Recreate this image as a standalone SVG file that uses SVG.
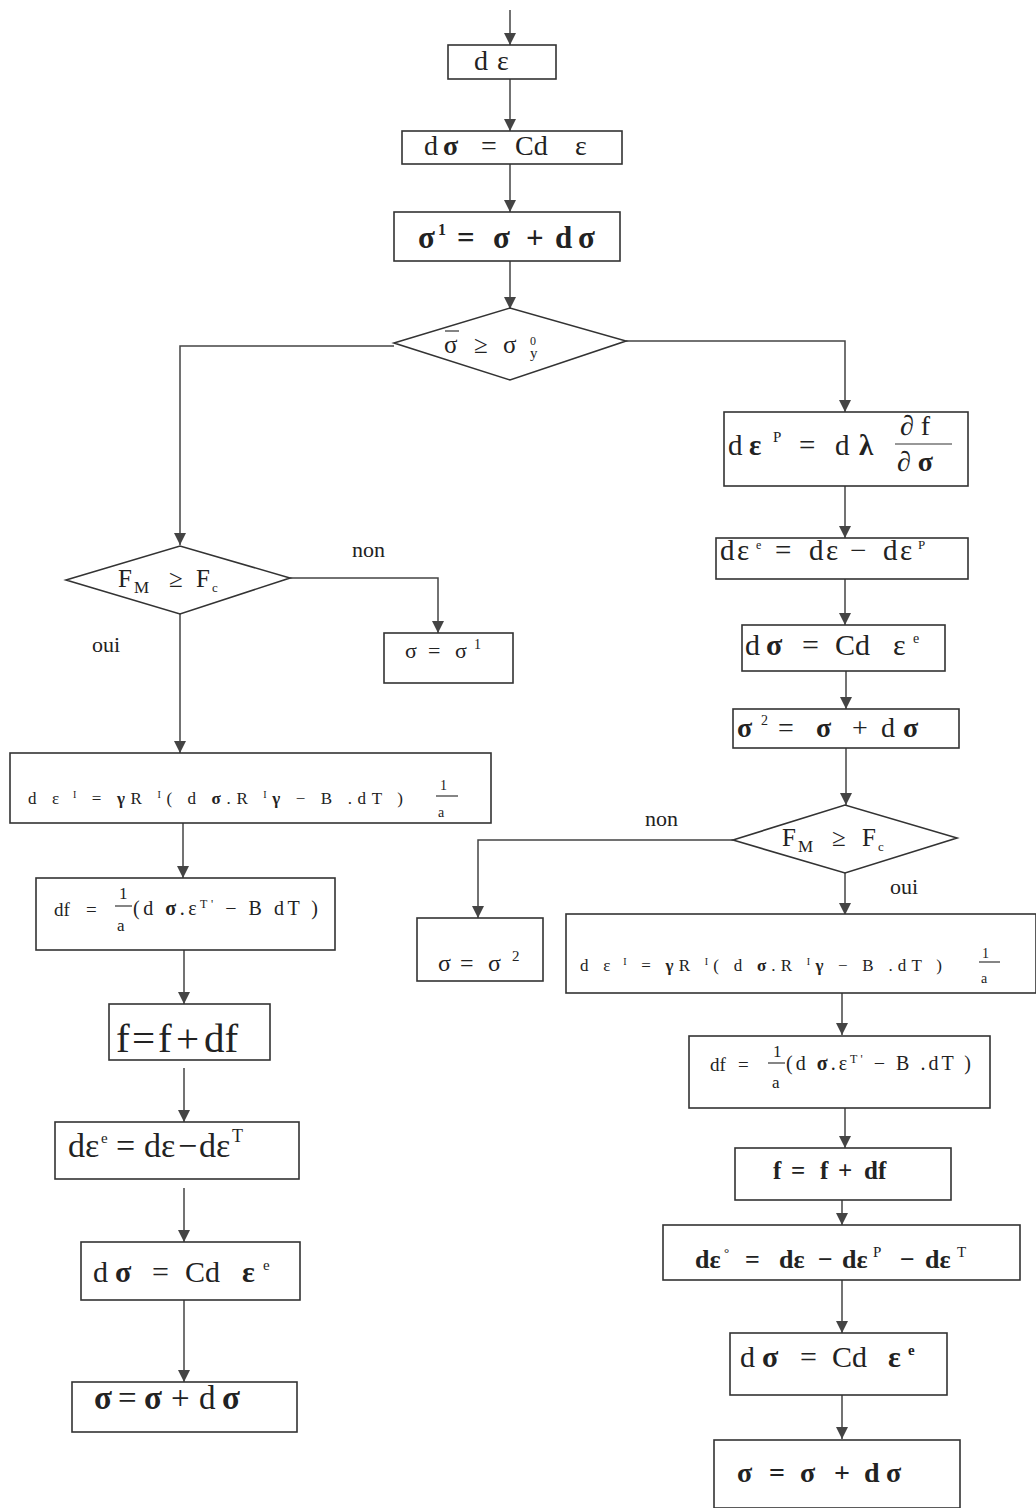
<svg xmlns="http://www.w3.org/2000/svg" width="1036" height="1508" viewBox="0 0 1036 1508">
<style>
.bx{fill:#fff;stroke:#333;stroke-width:1.6}
.cn{fill:none;stroke:#444;stroke-width:1.5}
.t{font-family:"Liberation Serif","DejaVu Serif",serif;fill:#222}
.b{font-weight:bold}
.fr{stroke:#333;stroke-width:1.2}
</style>
<defs>
<marker id="ah" markerUnits="userSpaceOnUse" markerWidth="12" markerHeight="12" refX="12" refY="6" orient="auto">
<path d="M0,0 L12,6 L0,12 z" fill="#444"/>
</marker>
</defs>
<rect width="1036" height="1508" fill="#fff"/>
<g id="connectors" class="cn" marker-end="url(#ah)">
<path d="M510,10 V45"/>
<path d="M510,79 V131"/>
<path d="M510,164 V212"/>
<path d="M510,261 V309"/>
<path d="M394,346 H180 V545"/>
<path d="M626,341 H845 V412"/>
<path d="M845,486 V538"/>
<path d="M845,579 V625"/>
<path d="M846,671 V709"/>
<path d="M846,748 V805"/>
<path d="M733,840 H478 V918"/>
<path d="M845,873 V915"/>
<path d="M842,993 V1035"/>
<path d="M845,1108 V1148"/>
<path d="M842,1200 V1225"/>
<path d="M842,1280 V1333"/>
<path d="M842,1395 V1439"/>
<path d="M290,578 H438 V633"/>
<path d="M180,614 V753"/>
<path d="M183,823 V878"/>
<path d="M184,950 V1004"/>
<path d="M184,1068 V1122"/>
<path d="M184,1188 V1242"/>
<path d="M184,1300 V1382"/>
</g>
<g id="n1"><rect class="bx" x="448" y="45" width="108" height="34"/><text class="t" y="70" font-size="28"><tspan x="474">d</tspan><tspan x="497">ε</tspan></text></g>
<g id="n2"><rect class="bx" x="402" y="131" width="220" height="33"/><text class="t" y="155" font-size="28"><tspan x="424">d</tspan><tspan x="443" class="b">σ</tspan><tspan x="481">=</tspan><tspan x="515">Cd</tspan><tspan x="575">ε</tspan></text></g>
<g id="n3"><rect class="bx" x="394" y="212" width="226" height="49"/><text class="t b" y="248" font-size="31"><tspan x="418">σ</tspan><tspan x="438" y="235" font-size="16">1</tspan><tspan x="457" y="248">=</tspan><tspan x="493">σ</tspan><tspan x="526">+</tspan><tspan x="555">d</tspan><tspan x="578">σ</tspan></text></g>
<g id="d1"><polygon class="bx" points="394,343 510,308 626,341 510,380"/>
<line class="fr" x1="445" y1="331" x2="459" y2="331"/>
<text class="t" y="353" font-size="25"><tspan x="444">σ</tspan><tspan x="474">≥</tspan><tspan x="503">σ</tspan></text>
<text class="t" x="530" y="345" font-size="12">0</text>
<text class="t" x="530" y="358" font-size="15">y</text></g>
<g id="r1"><rect class="bx" x="724" y="412" width="244" height="74"/>
<text class="t" y="455" font-size="29"><tspan x="728">d</tspan><tspan x="749" class="b">ε</tspan><tspan x="773" y="442" font-size="15">P</tspan><tspan x="799" y="455">=</tspan><tspan x="835">d</tspan><tspan x="859" class="b">λ</tspan></text>
<text class="t" x="900" y="435" font-size="28">∂ f</text>
<line class="fr" x1="895" y1="444" x2="952" y2="444"/>
<text class="t b" x="897" y="471" font-size="28">∂ σ</text></g>
<g id="r2"><rect class="bx" x="716" y="538" width="252" height="41"/>
<text class="t" y="560" font-size="29"><tspan x="720">d</tspan><tspan x="737">ε</tspan><tspan x="756" y="549" font-size="12">e</tspan><tspan x="775" y="560">=</tspan><tspan x="809">d</tspan><tspan x="826">ε</tspan><tspan x="850">−</tspan><tspan x="883">d</tspan><tspan x="900">ε</tspan><tspan x="918" y="549" font-size="13">P</tspan></text></g>
<g id="r3"><rect class="bx" x="742" y="625" width="203" height="46"/>
<text class="t" y="655" font-size="30"><tspan x="745">d</tspan><tspan x="766" class="b">σ</tspan><tspan x="802">=</tspan><tspan x="835">Cd</tspan><tspan x="893">ε</tspan><tspan x="913" y="643" font-size="14">e</tspan></text></g>
<g id="r4"><rect class="bx" x="733" y="709" width="226" height="39"/>
<text class="t" y="737" font-size="28"><tspan x="737" class="b">σ</tspan><tspan x="761" y="725" font-size="14">2</tspan><tspan x="778" y="737">=</tspan><tspan x="816" class="b">σ</tspan><tspan x="852">+</tspan><tspan x="881">d</tspan><tspan x="903" class="b">σ</tspan></text></g>
<g id="d2"><polygon class="bx" points="733,840 845,805 957,838 845,873"/>
<text class="t" y="846" font-size="25"><tspan x="782">F</tspan><tspan x="798" y="852" font-size="17">M</tspan><tspan x="832" y="846">≥</tspan><tspan x="862">F</tspan><tspan x="878" y="851" font-size="13">c</tspan></text></g>
<text class="t" x="645" y="826" font-size="22">non</text>
<text class="t" x="890" y="894" font-size="22">oui</text>
<g id="r5"><rect class="bx" x="417" y="918" width="126" height="63"/>
<text class="t" y="971" font-size="24"><tspan x="438">σ</tspan><tspan x="460">=</tspan><tspan x="488">σ</tspan><tspan x="512" y="961" font-size="15">2</tspan></text></g>
<g id="r6"><rect class="bx" x="566" y="914" width="470" height="79"/>
<text class="t" x="580" y="971" font-size="17" textLength="362" lengthAdjust="spacing">d ε<tspan font-size="10" dy="-6"> I</tspan><tspan dy="6"> = </tspan><tspan class="b">γ</tspan>R <tspan font-size="10" dy="-6">I</tspan><tspan dy="6">( d </tspan><tspan class="b">σ</tspan>.R <tspan font-size="10" dy="-6">I</tspan><tspan class="b" dy="6">γ</tspan> − B .dT )</text>
<text class="t" x="982" y="958" font-size="14">1</text>
<line class="fr" x1="979" y1="962" x2="1000" y2="962"/>
<text class="t" x="981" y="983" font-size="14">a</text></g>
<g id="r7"><rect class="bx" x="689" y="1036" width="301" height="72"/>
<text class="t" y="1071" font-size="19"><tspan x="710">df</tspan><tspan x="738">=</tspan></text>
<text class="t" x="773" y="1057" font-size="17">1</text>
<line class="fr" x1="768" y1="1063" x2="785" y2="1063"/>
<text class="t" x="772" y="1088" font-size="17">a</text>
<text class="t" x="786" y="1070" font-size="20" textLength="185" lengthAdjust="spacing">(d <tspan class="b">σ</tspan>.ε<tspan font-size="12" dy="-7">T'</tspan><tspan dy="7"> − B .dT )</tspan></text></g>
<g id="r8"><rect class="bx" x="735" y="1148" width="216" height="52"/>
<text class="t b" y="1179" font-size="25"><tspan x="773">f</tspan><tspan x="791">=</tspan><tspan x="820">f</tspan><tspan x="838">+</tspan><tspan x="864">df</tspan></text></g>
<g id="r9"><rect class="bx" x="663" y="1225" width="357" height="55"/>
<text class="t b" y="1268" font-size="26"><tspan x="695">dε</tspan><tspan x="724" y="1257" font-size="13">°</tspan><tspan x="745" y="1268">=</tspan><tspan x="779">dε</tspan><tspan x="818">−</tspan><tspan x="842">dε</tspan><tspan x="873" y="1257" font-size="15" font-weight="normal">P</tspan><tspan x="900" y="1268">−</tspan><tspan x="925">dε</tspan><tspan x="957" y="1257" font-size="15" font-weight="normal">T</tspan></text></g>
<g id="r10"><rect class="bx" x="730" y="1333" width="217" height="62"/>
<text class="t" y="1367" font-size="30"><tspan x="740">d</tspan><tspan x="762" class="b">σ</tspan><tspan x="800">=</tspan><tspan x="832">Cd</tspan><tspan x="888" class="b">ε</tspan><tspan x="908" y="1355" font-size="15" class="b">e</tspan></text></g>
<g id="r11"><rect class="bx" x="714" y="1440" width="246" height="68"/>
<text class="t b" y="1482" font-size="28"><tspan x="737">σ</tspan><tspan x="769">=</tspan><tspan x="800">σ</tspan><tspan x="834">+</tspan><tspan x="864">d</tspan><tspan x="886">σ</tspan></text></g>
<g id="d3"><polygon class="bx" points="66,580 180,546 290,578 180,614"/>
<text class="t" y="587" font-size="25"><tspan x="118">F</tspan><tspan x="134" y="593" font-size="17">M</tspan><tspan x="169" y="587">≥</tspan><tspan x="196">F</tspan><tspan x="212" y="592" font-size="13">c</tspan></text></g>
<text class="t" x="352" y="557" font-size="22">non</text>
<text class="t" x="92" y="652" font-size="22">oui</text>
<g id="l1"><rect class="bx" x="384" y="633" width="129" height="50"/>
<text class="t" y="658" font-size="22"><tspan x="405">σ</tspan><tspan x="428">=</tspan><tspan x="455">σ</tspan><tspan x="474" y="649" font-size="14">1</tspan></text></g>
<g id="l2"><rect class="bx" x="10" y="753" width="481" height="70"/>
<text class="t" x="28" y="804" font-size="17" textLength="375" lengthAdjust="spacing">d ε<tspan font-size="10" dy="-6"> I</tspan><tspan dy="6"> = </tspan><tspan class="b">γ</tspan>R <tspan font-size="10" dy="-6">I</tspan><tspan dy="6">( d </tspan><tspan class="b">σ</tspan>.R <tspan font-size="10" dy="-6">I</tspan><tspan class="b" dy="6">γ</tspan> − B .dT )</text>
<text class="t" x="440" y="790" font-size="14">1</text>
<line class="fr" x1="436" y1="796" x2="458" y2="796"/>
<text class="t" x="438" y="817" font-size="14">a</text></g>
<g id="l3"><rect class="bx" x="36" y="878" width="299" height="72"/>
<text class="t" y="916" font-size="19"><tspan x="54">df</tspan><tspan x="86">=</tspan></text>
<text class="t" x="119" y="899" font-size="17">1</text>
<line class="fr" x1="115" y1="906" x2="132" y2="906"/>
<text class="t" x="117" y="931" font-size="17">a</text>
<text class="t" x="133" y="915" font-size="20" textLength="185" lengthAdjust="spacing">(d <tspan class="b">σ</tspan>.ε<tspan font-size="12" dy="-7">T'</tspan><tspan dy="7"> − B dT )</tspan></text></g>
<g id="l4"><rect class="bx" x="109" y="1004" width="161" height="56"/>
<text class="t" y="1052" font-size="41"><tspan x="116">f</tspan><tspan x="132">=</tspan><tspan x="158">f</tspan><tspan x="176">+</tspan><tspan x="204">df</tspan></text></g>
<g id="l5"><rect class="bx" x="55" y="1122" width="244" height="57"/>
<text class="t" y="1157" font-size="34"><tspan x="68">dε</tspan><tspan x="101" y="1143" font-size="15">e</tspan><tspan x="116" y="1157">=</tspan><tspan x="144">dε</tspan><tspan x="178">−</tspan><tspan x="199">dε</tspan><tspan x="232" y="1142" font-size="18">T</tspan></text></g>
<g id="l6"><rect class="bx" x="81" y="1242" width="219" height="58"/>
<text class="t" y="1282" font-size="30"><tspan x="93">d</tspan><tspan x="115" class="b">σ</tspan><tspan x="152">=</tspan><tspan x="185">Cd</tspan><tspan x="242" class="b">ε</tspan><tspan x="263" y="1270" font-size="15">e</tspan></text></g>
<g id="l7"><rect class="bx" x="72" y="1382" width="225" height="50"/>
<text class="t" y="1409" font-size="33"><tspan x="94" class="b">σ</tspan><tspan x="118">=</tspan><tspan x="144" class="b">σ</tspan><tspan x="171">+</tspan><tspan x="199">d</tspan><tspan x="222" class="b">σ</tspan></text></g>
</svg>
